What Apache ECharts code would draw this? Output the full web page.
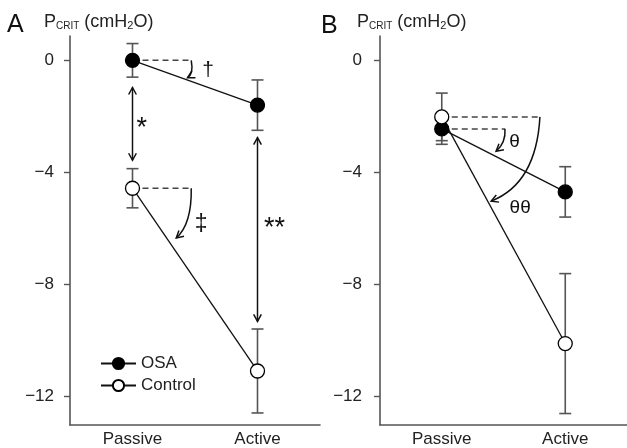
<!DOCTYPE html>
<html><head><meta charset="utf-8">
<script src="https://cdn.jsdelivr.net/npm/echarts@6/dist/echarts.min.js"></script>
<style>html,body{margin:0;padding:0;background:#fff}#c{width:627px;height:448px}</style>
</head><body><div id="c"></div>
<script>
// ---- data ----
const categories = ['Passive', 'Active'];
const yTicks = [0, -4, -8, -12];
// Panel A
const osaA = [0, -1.6];
const osaAErr = [0.6, 0.9];
const ctrlA = [-4.57, -11.1];
const ctrlAErr = [0.7, 1.5];
// Panel B
const osaB = [-2.45, -4.7];
const osaBErr = [0.55, 0.9];
const ctrlB = [-2.02, -10.12];
const ctrlBErr = [0.85, 2.5];

const FONT = 'Liberation Sans, Arial, Helvetica, sans-serif';
const AXC = '#555';

const chart = echarts.init(document.getElementById('c'), null, {renderer: 'canvas'});

function errSeries(gi, vals, errs) {
  return {
    type: 'custom', xAxisIndex: gi, yAxisIndex: gi, z: 1, silent: true,
    data: vals.map((v, i) => [i, v - errs[i], v + errs[i]]),
    encode: {x: 0, y: [1, 2]},
    renderItem(params, api) {
      const lo = api.coord([api.value(0), api.value(1)]);
      const hi = api.coord([api.value(0), api.value(2)]);
      const w = 6;
      const st = {stroke: AXC, lineWidth: 1.6};
      return {type: 'group', children: [
        {type: 'line', shape: {x1: lo[0], y1: lo[1], x2: hi[0], y2: hi[1]}, style: st},
        {type: 'line', shape: {x1: lo[0] - w, y1: lo[1], x2: lo[0] + w, y2: lo[1]}, style: st},
        {type: 'line', shape: {x1: hi[0] - w, y1: hi[1], x2: hi[0] + w, y2: hi[1]}, style: st}
      ]};
    }
  };
}
function lineSeries(gi, name, vals, filled) {
  return {
    type: 'line', name, xAxisIndex: gi, yAxisIndex: gi, data: vals, z: 3,
    symbol: 'circle', symbolSize: 14, showSymbol: true,
    lineStyle: {color: '#111', width: 1.3},
    itemStyle: {color: filled ? '#000' : '#fff', borderColor: '#000', borderWidth: 1.3},
    emphasis: {disabled: true}, silent: true
  };
}

const option = {
  animation: false,
  backgroundColor: '#fff',
  grid: [
    {left: 70, top: 36, width: 250, bottom: 21},
    {left: 380, top: 36, width: 247, bottom: 21}
  ],
  xAxis: [0, 1].map(i => ({
    type: 'category', gridIndex: i, data: categories, boundaryGap: true,
    axisTick: {show: false},
    axisLine: {onZero: false, lineStyle: {color: AXC, width: 1.6}},
    axisLabel: {fontSize: 17, color: '#222', margin: 6, fontFamily: FONT}
  })),
  yAxis: [0, 1].map(i => ({
    type: 'value', gridIndex: i, min: -13.03, max: 0.87,
    splitLine: {show: false},
    axisLine: {show: true, onZero: false, lineStyle: {color: AXC, width: 1.6}},
    axisTick: {show: true, inside: false, length: 6, customValues: yTicks, lineStyle: {color: AXC, width: 1.4}},
    axisLabel: {customValues: yTicks, fontSize: 17, color: '#222', fontFamily: FONT, margin: i === 0 ? 16 : 18,
      formatter: v => v < 0 ? '\u2212' + Math.abs(v) : String(v)}
  })),
  legend: {
    left: 95, top: 350, orient: 'vertical', itemWidth: 35, itemHeight: 14, itemGap: 5,
    data: ['OSA', 'Control'],
    textStyle: {fontSize: 17, color: '#222', fontFamily: FONT}
  },
  series: [
    errSeries(0, osaA, osaAErr), errSeries(0, ctrlA, ctrlAErr),
    errSeries(1, osaB, osaBErr), errSeries(1, ctrlB, ctrlBErr),
    lineSeries(0, 'OSA', osaA, true), lineSeries(0, 'Control', ctrlA, false),
    lineSeries(1, 'OSA', osaB, true), lineSeries(1, 'Control', ctrlB, false)
  ]
};
chart.setOption(option);

// ---- annotations (in data coordinates: x = category position, y = value) ----
function P(gi, x, y) {
  const a = chart.convertToPixel({gridIndex: gi}, [0, y]);
  const b = chart.convertToPixel({gridIndex: gi}, [1, y]);
  return [a[0] + (b[0] - a[0]) * x, a[1]];
}
const g = [];
const LC = '#111';
function dashed(gi, p, q) {
  const a = P(gi, p[0], p[1]), b = P(gi, q[0], q[1]);
  g.push({type: 'line', shape: {x1: a[0], y1: a[1], x2: b[0], y2: b[1]},
    style: {stroke: '#444', lineWidth: 1.5, lineDash: [6, 4]}});
}
function head(end, dx, dy) {
  const L = Math.hypot(dx, dy), ux = dx / L, uy = dy / L, len = 8, ang = 0.5;
  const pts = [];
  for (const s of [-1, 1]) {
    const c = Math.cos(s * ang), sn = Math.sin(s * ang);
    const rx = -(ux * c - uy * sn), ry = -(ux * sn + uy * c);
    pts.push([end[0] + rx * len, end[1] + ry * len]);
  }
  g.push({type: 'polyline', shape: {points: [pts[0], end, pts[1]]}, style: {stroke: LC, lineWidth: 1.5, fill: null}});
}
function curve(gi, s, c, e) {
  const a = P(gi, s[0], s[1]), cp = P(gi, c[0], c[1]), b = P(gi, e[0], e[1]);
  g.push({type: 'bezierCurve', shape: {x1: a[0], y1: a[1], cpx1: cp[0], cpy1: cp[1], x2: b[0], y2: b[1]},
    style: {stroke: LC, lineWidth: 1.5, fill: null}});
  head(b, b[0] - cp[0], b[1] - cp[1]);
}
function dbl(gi, x, y1, y2) {
  const a = P(gi, x, y1), b = P(gi, x, y2);
  g.push({type: 'line', shape: {x1: a[0], y1: a[1], x2: b[0], y2: b[1]}, style: {stroke: LC, lineWidth: 1.5}});
  head(a, 0, -1); head(b, 0, 1);
}
function label(gi, x, y, txt, size) {
  const a = P(gi, x, y);
  g.push({type: 'text', x: a[0], y: a[1], style: {text: txt, fontSize: size, fontFamily: FONT, fill: '#111', align: 'center', verticalAlign: 'middle'}});
}
// Panel A
dashed(0, [0, 0], [0.47, 0]);
curve(0, [0.47, 0], [0.49, -0.5], [0.44, -0.62]);
label(0, 0.604, -0.36, '\u2020', 21);
dashed(0, [0, -4.57], [0.47, -4.57]);
curve(0, [0.47, -4.57], [0.475, -5.85], [0.35, -6.35]);
label(0, 0.55, -5.88, '\u2021', 23);
dbl(0, 0, -0.97, -3.57);
label(0, 0.075, -2.45, '*', 27);
dbl(0, 1, -2.76, -9.33);
label(0, 1.136, -6.0, '**', 27);
// Panel B
dashed(1, [0, -2.45], [0.512, -2.45]);
curve(1, [0.512, -2.45], [0.52, -2.95], [0.44, -3.25]);
label(1, 0.589, -2.92, '\u03b8', 19);
dashed(1, [0, -2.02], [0.795, -2.02]);
curve(1, [0.795, -2.02], [0.765, -4.4], [0.40, -5.03]);
label(1, 0.635, -5.25, '\u03b8\u03b8', 19);

// panel letters and axis titles
g.push({type: 'text', left: 7, top: 13, style: {text: 'A', fontSize: 25, fontFamily: FONT, fill: '#111'}});
g.push({type: 'text', left: 321, top: 14, style: {text: 'B', fontSize: 25, fontFamily: FONT, fill: '#111'}});
const titleRich = {
  p: {fontSize: 18, fontFamily: FONT, fill: '#222', verticalAlign: 'bottom', lineHeight: 20},
  s: {fontSize: 10, fontFamily: FONT, fill: '#222', verticalAlign: 'bottom', lineHeight: 13},
  s2: {fontSize: 11, fontFamily: FONT, fill: '#222', verticalAlign: 'bottom', lineHeight: 10},
  n: {fontSize: 18, fontFamily: FONT, fill: '#222', verticalAlign: 'bottom', lineHeight: 20}
};
const titleText = '{p|P}{s|CRIT}{n| (cmH}{s2|2}{n|O)}';
g.push({type: 'text', left: 44, top: 13, style: {text: titleText, rich: titleRich}});
g.push({type: 'text', left: 357, top: 13, style: {text: titleText, rich: titleRich}});

chart.setOption({graphic: g});
</script>
</body></html>
